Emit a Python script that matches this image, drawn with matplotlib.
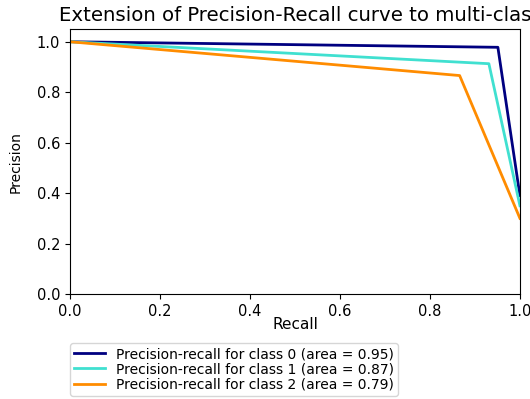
import matplotlib
matplotlib.use('Agg')
from matplotlib import pyplot as plt

# precision-recall points per class (recall, precision)
recall_0 = [0.0, 0.951, 1.0]
precision_0 = [1.0, 0.978, 0.39]
recall_1 = [0.0, 0.931, 1.0]
precision_1 = [1.0, 0.913, 0.35]
recall_2 = [0.0, 0.866, 1.0]
precision_2 = [1.0, 0.866, 0.30]
areas = [0.95, 0.87, 0.79]
colors = ['navy', 'turquoise', 'darkorange']

fig = plt.figure(figsize=(5.30, 3.99), dpi=100)
ax = fig.add_axes([0.132, 0.263, 0.849, 0.664])

curves = [(recall_0, precision_0), (recall_1, precision_1), (recall_2, precision_2)]
for i, (r, p) in enumerate(curves):
    ax.plot(r, p, color=colors[i], lw=2,
            label='Precision-recall for class {0} (area = {1:0.2f})'.format(i, areas[i]))

ax.set_xlim([0.0, 1.0])
ax.set_ylim([0.0, 1.05])
ax.set_xlabel('Recall', fontsize=11, labelpad=-1)
ax.set_ylabel('Precision', fontsize=10, labelpad=10)
ax.tick_params(labelsize=10.5)
ax.set_title('Extension of Precision-Recall curve to multi-class', fontsize=14.2,
             loc='left', x=-0.025, pad=6)
ax.legend(loc='upper left', bbox_to_anchor=(0.0, -0.185), borderaxespad=0,
          fontsize=10, labelspacing=0.08, borderpad=0.3, handlelength=2.2)

plt.savefig('out.png')
